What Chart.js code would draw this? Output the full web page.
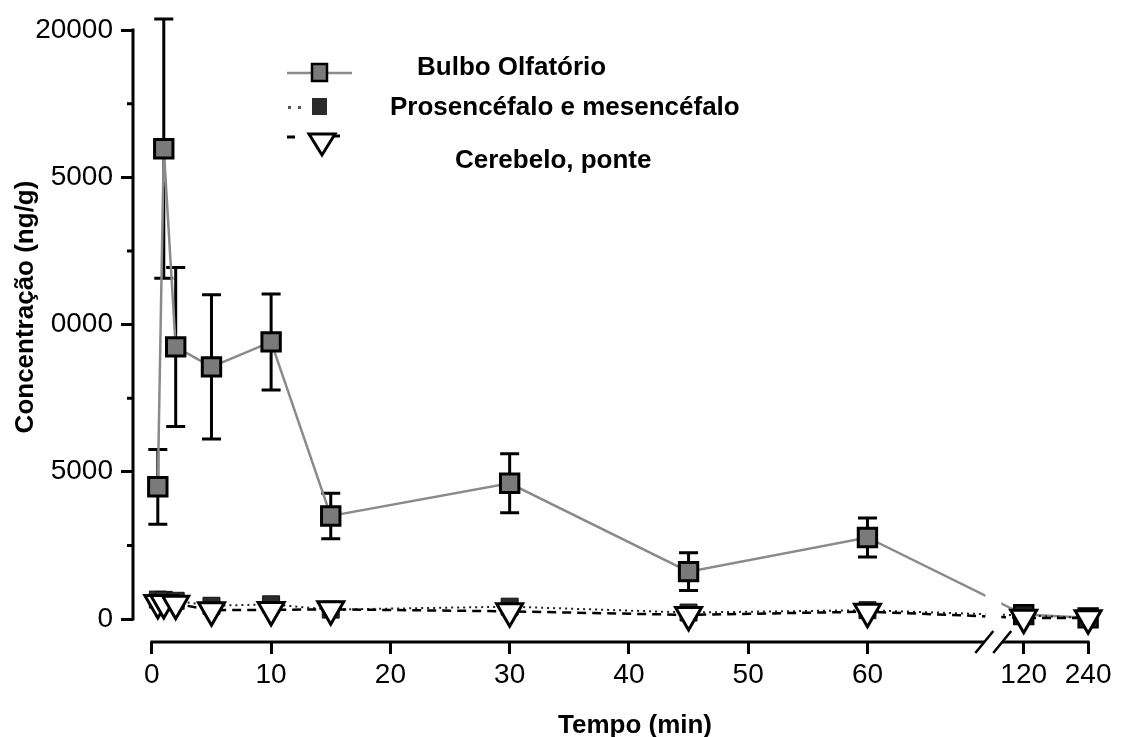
<!DOCTYPE html>
<html>
<head>
<meta charset="utf-8">
<title>Concentração</title>
<script src="https://cdn.jsdelivr.net/npm/chart.js@4.4.1/dist/chart.umd.min.js"></script>
<style>
  body { margin: 0; background: #fff; }
  canvas { display: block; }
</style>
</head>
<body>
<canvas id="chart" width="1124" height="737"></canvas>
<script>
// tempos de coleta (min)
const times = [0.5, 1, 2, 5, 10, 15, 30, 45, 60, 120, 240]

const bulbo = [4490, 15970, 9240, 8560, 9410, 3500, 4610, 1610, 2770, 150, 40]
const bulboSem = [1270, 4400, 2700, 2450, 1630, 770, 1000, 640, 660, 0, 0]
const prosencefalo = [660, 650, 620, 450, 500, 320, 420, 220, 300, 120, 40]
const cerebelo = [540, 540, 520, 300, 310, 330, 260, 140, 250, 40, 30]

const seriesNames = ['Bulbo Olfatório', 'Prosencéfalo e mesencéfalo', 'Cerebelo, ponte']

const xTickTimes = [0, 10, 20, 30, 40, 50, 60, 120, 240]
const xTickLabels = ['0', '10', '20', '30', '40', '50', '60', '120', '240']
const yTickValues = [0, 5000, 10000, 15000, 20000]
const yTickLabels = ['0', '5000', '0000', '5000', '20000']
const yMinorValues = [2500, 7500, 12500, 17500]

// x axis is broken after 60 min
const BREAK_START = 69.8
const BREAK_END = 71.3
function axisPos(t) {
  if (t <= 60) return t
  return 73.1 + 5.4 * Math.log2(t / 120)
}

function points(values) {
  return times.map((t, i) => ({ x: axisPos(t), y: values[i] }))
}

Chart.defaults.font.family = '"Liberation Sans", Arial, sans-serif'
Chart.defaults.color = '#000'

const decorations = {
  id: 'decorations',
  beforeDatasetsDraw(chart) {
    // error bars for the olfactory bulb
    const ctx = chart.ctx
    const xs = chart.scales.x
    const ys = chart.scales.y
    ctx.save()
    ctx.strokeStyle = '#000'
    ctx.lineWidth = 3
    times.forEach((t, i) => {
      if (!bulboSem[i]) return
      const px = xs.getPixelForValue(axisPos(t))
      const top = ys.getPixelForValue(bulbo[i] + bulboSem[i])
      const bot = ys.getPixelForValue(bulbo[i] - bulboSem[i])
      ctx.beginPath()
      ctx.moveTo(px, top)
      ctx.lineTo(px, bot)
      ctx.moveTo(px - 9.5, top)
      ctx.lineTo(px + 9.5, top)
      ctx.moveTo(px - 9.5, bot)
      ctx.lineTo(px + 9.5, bot)
      ctx.stroke()
    })
    ctx.restore()
  },
  afterDatasetsDraw(chart) {
    const ctx = chart.ctx
    const xs = chart.scales.x
    const ys = chart.scales.y
    const area = chart.chartArea
    const b0 = xs.getPixelForValue(BREAK_START)
    const b1 = xs.getPixelForValue(BREAK_END)
    ctx.save()

    // gap of the axis break
    ctx.fillStyle = '#fff'
    ctx.fillRect(b0 + 1, area.top, b1 - b0 - 2, area.bottom - area.top - 3)

    // axis lines
    ctx.strokeStyle = '#000'
    ctx.lineWidth = 3
    ctx.beginPath()
    ctx.moveTo(area.left, ys.getPixelForValue(0) + 1.5)
    ctx.lineTo(area.left, ys.getPixelForValue(20000) - 1.5)
    ctx.moveTo(xs.getPixelForValue(0) - 1.5, area.bottom)
    ctx.lineTo(b0, area.bottom)
    ctx.moveTo(b1, area.bottom)
    ctx.lineTo(xs.getPixelForValue(axisPos(240)) + 1.5, area.bottom)
    ctx.stroke()

    // minor ticks
    ctx.beginPath()
    yMinorValues.forEach(v => {
      const py = ys.getPixelForValue(v)
      ctx.moveTo(area.left - 6, py)
      ctx.lineTo(area.left, py)
    })
    ctx.stroke()

    // break marks
    ctx.lineWidth = 2.5
    ctx.beginPath()
    ;[b0, b1].forEach(c => {
      ctx.moveTo(c - 9, area.bottom + 11)
      ctx.lineTo(c + 9, area.bottom - 11)
    })
    ctx.stroke()

    // legend
    ctx.strokeStyle = '#8a8a8a'
    ctx.lineWidth = 2.5
    ctx.beginPath()
    ctx.moveTo(287, 73)
    ctx.lineTo(352, 73)
    ctx.stroke()
    ctx.fillStyle = '#7a7a7a'
    ctx.fillRect(312, 64, 15, 17)
    ctx.strokeStyle = '#000'
    ctx.strokeRect(312, 64, 15, 17)

    ctx.fillStyle = '#555'
    ctx.fillRect(288, 106, 3, 3)
    ctx.fillRect(298, 106, 3, 3)
    ctx.fillStyle = '#2b2b2b'
    ctx.fillRect(312, 98, 15, 17)

    ctx.lineWidth = 3
    ctx.beginPath()
    ctx.moveTo(287, 137)
    ctx.lineTo(295, 137)
    ctx.moveTo(332, 136)
    ctx.lineTo(340, 136)
    ctx.stroke()
    ctx.beginPath()
    ctx.moveTo(309, 134)
    ctx.lineTo(335, 134)
    ctx.lineTo(322, 155)
    ctx.closePath()
    ctx.fillStyle = '#fff'
    ctx.fill()
    ctx.stroke()

    ctx.fillStyle = '#000'
    ctx.font = 'bold 26px "Liberation Sans", Arial, sans-serif'
    ctx.textBaseline = 'alphabetic'
    ctx.textAlign = 'left'
    ctx.fillText(seriesNames[0], 417, 75)
    ctx.fillText(seriesNames[1], 390, 115)
    ctx.fillText(seriesNames[2], 455, 168)

    // axis titles
    ctx.textAlign = 'center'
    ctx.fillText('Tempo (min)', 635, 733)
    ctx.translate(33, 307)
    ctx.rotate(-Math.PI / 2)
    ctx.fillText('Concentração (ng/g)', 0, 0)
    ctx.restore()
  }
}

const ctx = document.getElementById('chart').getContext('2d')
let chart = new Chart(ctx, {
  type: 'line',
  data: {
    datasets: [
      {
        label: seriesNames[0],
        data: points(bulbo),
        order: 3,
        borderColor: '#8a8a8a',
        borderWidth: 2.5,
        pointStyle: 'rect',
        pointRadius: 13,
        pointBackgroundColor: '#7a7a7a',
        pointBorderColor: '#000',
        pointBorderWidth: 3,
        clip: false
      },
      {
        label: seriesNames[1],
        data: points(prosencefalo),
        order: 2,
        borderColor: '#222',
        borderWidth: 2,
        borderDash: [2, 4],
        pointStyle: 'rect',
        pointRadius: 12,
        pointBackgroundColor: '#2b2b2b',
        pointBorderColor: '#111',
        pointBorderWidth: 1,
        clip: false
      },
      {
        label: seriesNames[2],
        data: points(cerebelo),
        order: 1,
        borderColor: '#000',
        borderWidth: 2.5,
        borderDash: [9, 6],
        pointStyle: 'triangle',
        pointRotation: 180,
        pointRadius: 15,
        pointBackgroundColor: '#fff',
        pointBorderColor: '#000',
        pointBorderWidth: 3,
        clip: false
      }
    ]
  },
  options: {
    responsive: false,
    animation: false,
    layout: { padding: { top: 30, right: 10, left: 0, bottom: 0 } },
    plugins: {
      legend: { display: false },
      tooltip: { enabled: false }
    },
    scales: {
      x: {
        type: 'linear',
        min: -1.58,
        max: 80,
        afterFit: scale => { scale.height = 95 },
        afterBuildTicks: scale => {
          scale.ticks = xTickTimes.map(t => ({ value: axisPos(t) }))
        },
        border: { display: false },
        grid: { drawOnChartArea: false, tickLength: 12, tickWidth: 3, tickColor: '#000' },
        ticks: {
          autoSkip: false,
          maxRotation: 0,
          padding: 4,
          font: { size: 28 },
          callback: (value, index) => xTickLabels[index]
        }
      },
      y: {
        min: -780,
        max: 20000,
        afterFit: scale => { scale.width = 133 },
        afterBuildTicks: scale => {
          scale.ticks = yTickValues.map(v => ({ value: v }))
        },
        border: { display: false },
        grid: { drawOnChartArea: false, tickLength: 12, tickWidth: 3, tickColor: '#000' },
        ticks: {
          padding: 8,
          font: { size: 28 },
          callback: (value, index) => yTickLabels[index]
        }
      }
    }
  },
  plugins: [decorations]
})
</script>
</body>
</html>
